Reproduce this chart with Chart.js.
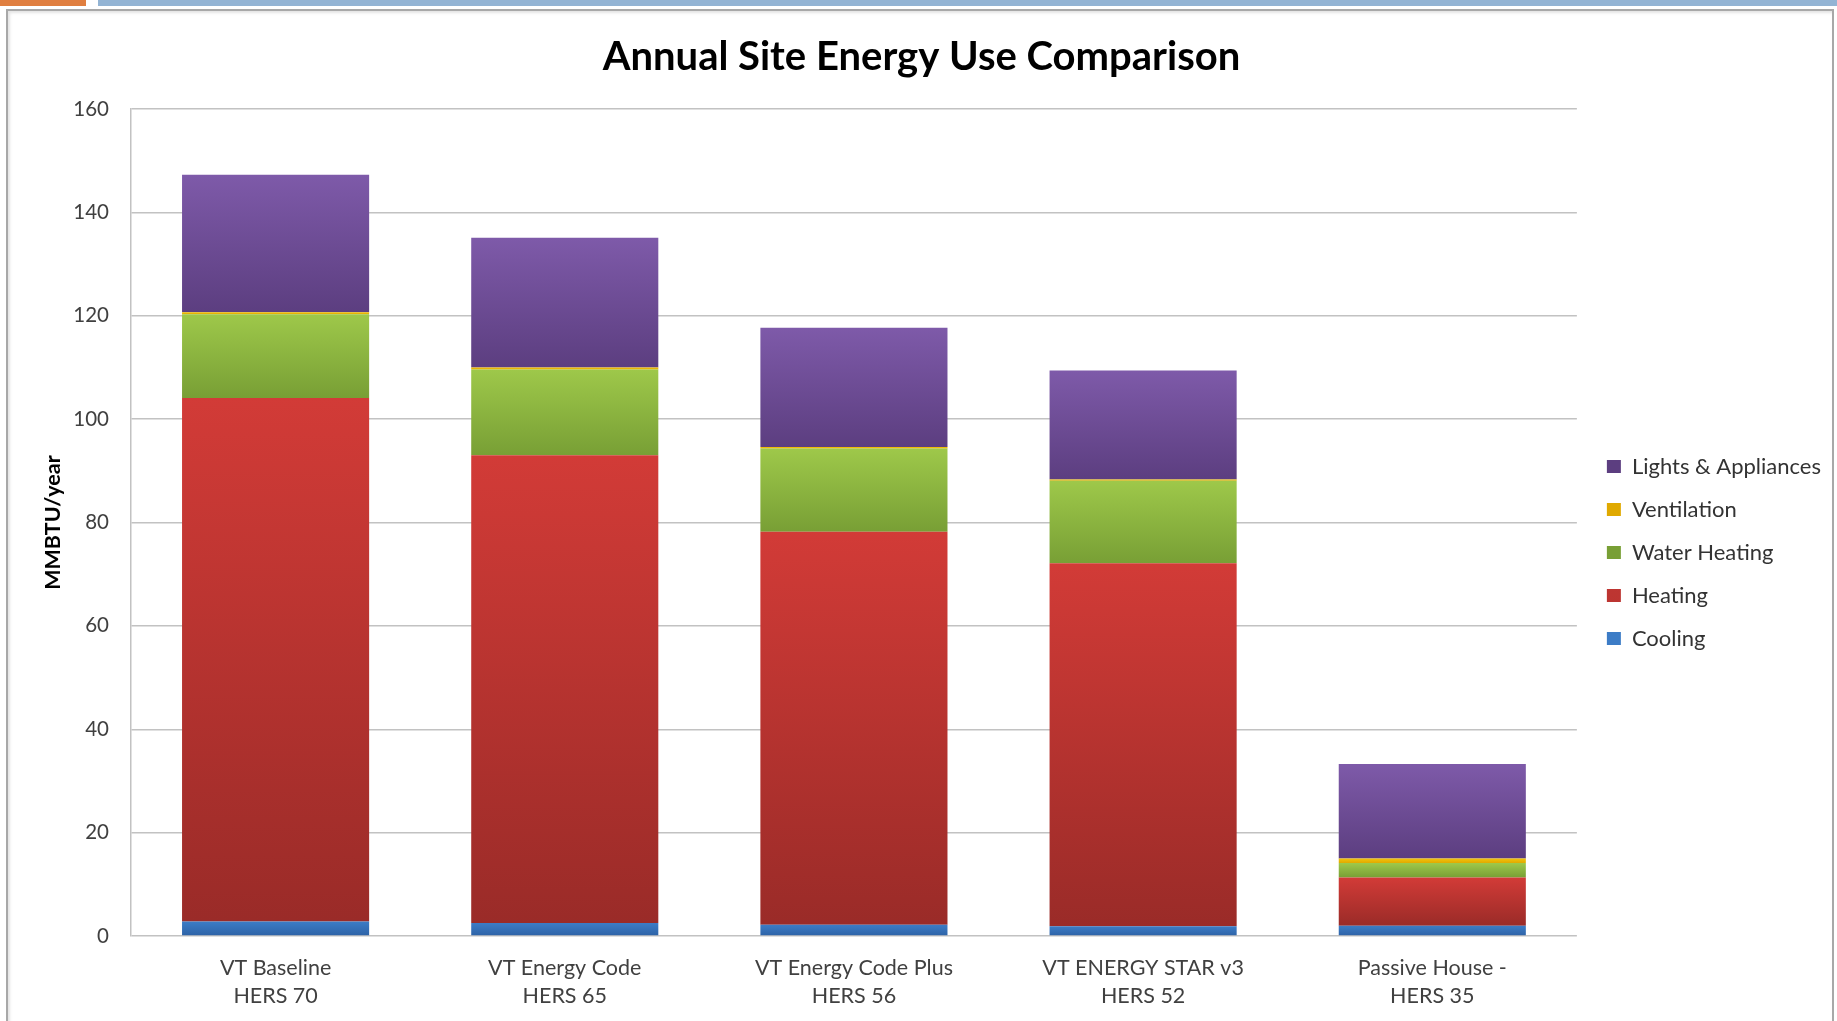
<!DOCTYPE html>
<html>
<head>
<meta charset="utf-8">
<script src="https://cdn.jsdelivr.net/npm/chart.js@4"></script>
<style>
  html, body { margin: 0; padding: 0; background: #fff; }
  body { width: 1837px; height: 1021px; position: relative; overflow: hidden; }
  .strip { position: absolute; top: 0; height: 6px; }
  .strip.orange { left: 0; width: 86px; background: #e07f40; }
  .strip.blue { left: 98px; right: 0; background: #93b4d4; }
  .frame {
    position: absolute; left: 6px; top: 9px; width: 1824px; height: 1030px;
    border: 2px solid #a8a8a8; border-bottom: none;
    box-shadow: inset 2px 2px 3px #e4e4e4;
  }
  #energyChart { position: absolute; left: 0; top: 0; }
</style>
</head>
<body>
<div class="strip orange"></div>
<div class="strip blue"></div>
<div class="frame"></div>
<canvas id="energyChart" width="1837" height="1021"></canvas>
<script>
// MMBTU/year per end use, one value per house type
const houseTypes = [
  ["VT Baseline", "HERS 70"],
  ["VT Energy Code", "HERS 65"],
  ["VT Energy Code Plus", "HERS 56"],
  ["VT ENERGY STAR v3", "HERS 52"],
  ["Passive House -", "HERS 35"],
];
const cooling = [2.8, 2.5, 2.2, 1.9, 2.0];
const heating = [101.3, 90.5, 76.0, 70.2, 9.3];
const waterHeating = [16.2, 16.6, 16.1, 16.0, 2.8];
const ventilation = [0.4, 0.4, 0.3, 0.2, 0.9];
const lightsAppliances = [26.6, 25.1, 23.1, 21.1, 18.3];
const yTicks = [0, 20, 40, 60, 80, 100, 120, 140, 160];

const series = [
  { label: "Cooling", data: cooling, top: "#3c7cc6", bottom: "#2d62a6" },
  { label: "Heating", data: heating, top: "#d23b37", bottom: "#9a2b28" },
  { label: "Water Heating", data: waterHeating, top: "#9ec84a", bottom: "#789f35" },
  { label: "Ventilation", data: ventilation, top: "#f3c40a", bottom: "#e0a900" },
  { label: "Lights & Appliances", data: lightsAppliances, top: "#7e5aa9", bottom: "#5c3e80" },
];

// each stacked segment gets its own top-to-bottom shading
function segmentFill(idx) {
  return (context) => {
    const s = series[idx];
    if (context.type !== "data") return s.top;
    const y = context.chart.scales.y;
    let start = 0;
    for (let k = 0; k < idx; k++) start += series[k].data[context.dataIndex];
    const end = start + s.data[context.dataIndex];
    const g = context.chart.ctx.createLinearGradient(0, y.getPixelForValue(end), 0, y.getPixelForValue(start));
    g.addColorStop(0, s.top);
    g.addColorStop(1, s.bottom);
    return g;
  };
}

const datasets = series.map((s, i) => ({
  label: s.label,
  data: s.data,
  backgroundColor: segmentFill(i),
  borderWidth: 0,
  categoryPercentage: 1,
  barPercentage: 0.647,
}));

Chart.defaults.font.family = "Lato, 'Open Sans', sans-serif";

new Chart(document.getElementById("energyChart"), {
  type: "bar",
  data: { labels: houseTypes, datasets: datasets },
  options: {
    responsive: false,
    devicePixelRatio: 1,
    animation: false,
    layout: { padding: { top: 10, left: 12, right: 6, bottom: 0 } },
    plugins: {
      title: {
        display: true,
        text: "Annual Site Energy Use Comparison",
        color: "#000",
        font: { size: 40, weight: "bold" },
        padding: { top: 23, bottom: 28 },
      },
      legend: {
        position: "right",
        fullSize: false,
        reverse: true,
        title: { display: true, text: " ", font: { size: 10 }, padding: { top: 48, bottom: 0 } },
        labels: {
          color: "#333",
          font: { size: 22 },
          boxWidth: 14,
          boxHeight: 13,
          padding: 21,
        },
      },
      tooltip: { enabled: false },
    },
    scales: {
      x: {
        stacked: true,
        grid: { display: false },
        border: { display: false },
        ticks: {
          color: "#404040",
          font: { size: 21.5, lineHeight: 1.3 },
          padding: 10,
          maxRotation: 0,
        },
        afterFit(scale) { scale.height = 85; },
      },
      y: {
        stacked: true,
        min: 0,
        max: 160,
        afterBuildTicks(scale) { scale.ticks = yTicks.map((v) => ({ value: v })); },
        grid: { color: "#c2c2c2", lineWidth: 1.5, drawTicks: false },
        border: { display: true, color: "#c2c2c2", width: 1.5 },
        ticks: { color: "#404040", font: { size: 20.5 }, padding: 22 },
        title: {
          display: true,
          text: "MMBTU/year",
          color: "#000",
          font: { size: 21.5, weight: "bold" },
          padding: { top: 28.5, bottom: 0 },
        },
        afterFit(scale) { scale.width = 119; },
      },
      yR: {
        type: "linear",
        position: "right",
        grid: { display: false },
        border: { display: false },
        ticks: { display: false },
        afterFit(scale) { scale.width = 9; },
      },
    },
  },
});
</script>
</body>
</html>
